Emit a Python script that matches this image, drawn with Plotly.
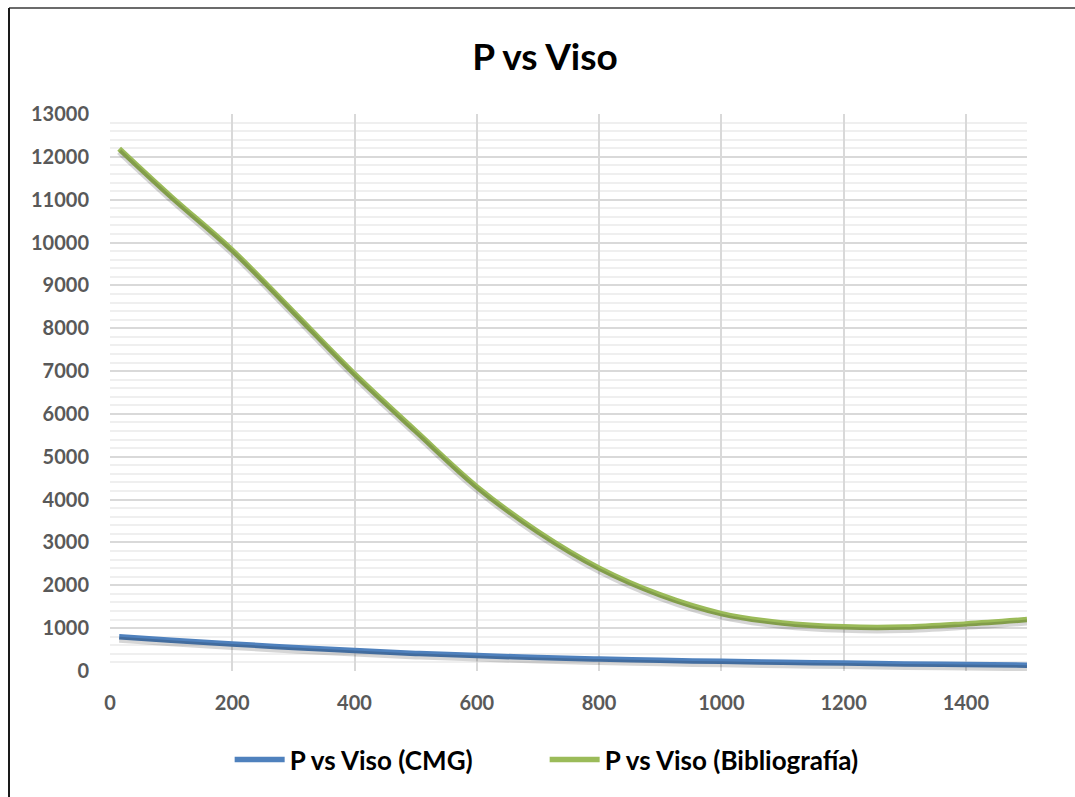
import plotly.graph_objects as go

# Viscosity points shared by both series
viso = [15, 100, 200, 300, 400, 500, 600, 700, 800, 900, 1000, 1100, 1200, 1300, 1400, 1500]

# Pressure computed with CMG
p_cmg = [800, 720, 630, 550, 480, 410, 360, 315, 280, 250, 225, 205, 185, 165, 150, 135]

# Pressure from bibliography
p_biblio = [12190, 11070, 9820, 8380, 6930, 5600, 4300, 3250, 2400, 1775, 1340, 1120, 1030, 1025, 1100, 1200]

series_names = ["P vs Viso (CMG)", "P vs Viso (Bibliografía)"]
series_colors = ["#4f81bd", "#9bbb59"]
title_text = "P vs Viso"

FONT = "Lato"
TICK_GREY = "#595959"

Y_MAX = 13000
PLOT_H = 557  # plot-area height in px
SHADOW_PX = 3  # soft drop shadow below each line
shadow_shift = SHADOW_PX * Y_MAX / PLOT_H

fig = go.Figure()

# Drop shadows, drawn on an overlaid y axis whose range is nudged so the
# same values land a few pixels lower than on the main axis
for ys in (p_cmg, p_biblio):
    fig.add_trace(go.Scatter(
        x=viso, y=ys, mode="lines", yaxis="y2", showlegend=False, hoverinfo="skip",
        line=dict(color="rgba(0,0,0,0.16)", width=6, shape="spline", smoothing=1.0),
    ))

for ys, name, color in zip((p_cmg, p_biblio), series_names, series_colors):
    fig.add_trace(go.Scatter(
        x=viso, y=ys, mode="lines", name=name,
        line=dict(color=color, width=5.5, shape="spline", smoothing=1.0),
    ))

tickfont = dict(family=FONT, size=20, color=TICK_GREY, weight="bold")

fig.update_layout(
    width=1075, height=797,
    margin=dict(l=110, r=48, t=114, b=126),
    paper_bgcolor="white", plot_bgcolor="white",
    title=dict(text=f"<b>{title_text}</b>", x=0.507, xanchor="center",
               y=0.928, yanchor="middle",
               font=dict(family=FONT, size=37, color="black")),
    font=dict(family=FONT),
    showlegend=True,
    legend=dict(orientation="h", x=0.474, xanchor="center", y=-0.159, yanchor="middle",
                font=dict(family=FONT, size=26, color="black", weight="bold"),
                itemwidth=50, entrywidth=250, entrywidthmode="pixels",
                traceorder="normal"),
    xaxis=dict(range=[0, 1500], dtick=200, tick0=0, showgrid=True,
               gridcolor="#d9d9d9", gridwidth=1.5, zeroline=False,
               showline=False, ticks="", ticklabelstandoff=18,
               tickfont=tickfont),
    yaxis=dict(range=[0, Y_MAX], dtick=1000, tick0=0, tickformat="d", showgrid=True,
               gridcolor="#d9d9d9", gridwidth=1.5, zeroline=False,
               showline=False, ticks="", ticklabelstandoff=20,
               tickfont=tickfont,
               minor=dict(dtick=200, showgrid=True, gridcolor="#efefef", gridwidth=1.5)),
    yaxis2=dict(overlaying="y", range=[shadow_shift, Y_MAX + shadow_shift],
                visible=False, showgrid=False),
)

# Chart frame: top and left edges of the chart area
fig.add_shape(type="line", xref="paper", yref="paper",
              x0=(9 - 110) / 917, x1=(1080 - 110) / 917,
              y0=(671 - 8) / PLOT_H, y1=(671 - 8) / PLOT_H,
              line=dict(color="#6b6b6b", width=2))
fig.add_shape(type="line", xref="paper", yref="paper",
              x0=(9 - 110) / 917, x1=(9 - 110) / 917,
              y0=(671 - 8) / PLOT_H, y1=(671 - 800) / PLOT_H,
              line=dict(color="#1a1a1a", width=2))

fig.write_html("out.html")
